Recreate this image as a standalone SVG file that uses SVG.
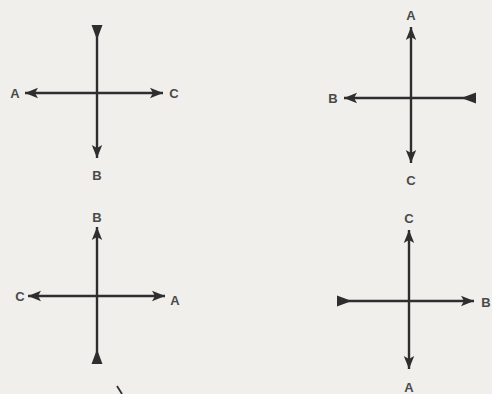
<svg xmlns="http://www.w3.org/2000/svg" width="492" height="394" viewBox="0 0 492 394">
<defs>
<style>
.ln{stroke:#2e2e2e;stroke-width:2.4;fill:none}
.t{font-family:"Liberation Sans",Arial,sans-serif;font-size:13px;font-weight:bold;fill:#4a4a4a;text-anchor:middle;dominant-baseline:central}
.head{marker-end:url(#arr)}
.tail{marker-end:url(#tl)}
</style>
<marker id="arr" markerUnits="userSpaceOnUse" viewBox="-14 -6 15 12" refX="0" refY="0" markerWidth="15" markerHeight="12" orient="auto">
<path d="M0,0 L-13,-5.2 L-10,0 L-13,5.2 Z" fill="#2e2e2e"/>
</marker>
<marker id="tl" markerUnits="userSpaceOnUse" viewBox="-14 -6 15 12" refX="0" refY="0" markerWidth="15" markerHeight="12" orient="auto">
<path d="M0,-5.5 L0,5.5 L-12,1 L-12,-1 Z" fill="#2e2e2e"/>
</marker>
</defs>
<rect width="492" height="394" fill="#f0efec"/>
<g id="connectors">
<line class="ln tail" x1="97" y1="93" x2="97" y2="25"/>
<line class="ln head" x1="97" y1="93" x2="97" y2="158"/>
<line class="ln head" x1="97" y1="93" x2="25" y2="93"/>
<line class="ln head" x1="97" y1="93" x2="163" y2="93"/>

<line class="ln head" x1="411" y1="98" x2="411" y2="27"/>
<line class="ln head" x1="411" y1="98" x2="411" y2="163"/>
<line class="ln head" x1="411" y1="98" x2="344" y2="98"/>
<line class="ln tail" x1="411" y1="98" x2="476" y2="98"/>

<line class="ln head" x1="97" y1="296" x2="97" y2="227"/>
<line class="ln tail" x1="97" y1="296" x2="97" y2="364"/>
<line class="ln head" x1="97" y1="296" x2="28" y2="296"/>
<line class="ln head" x1="97" y1="296" x2="165" y2="296"/>

<line class="ln head" x1="409" y1="301" x2="409" y2="230"/>
<line class="ln head" x1="409" y1="301" x2="409" y2="369"/>
<line class="ln tail" x1="409" y1="301" x2="337" y2="301"/>
<line class="ln head" x1="409" y1="301" x2="474" y2="301"/>
<line x1="117" y1="386" x2="122" y2="394" stroke="#2e2e2e" stroke-width="1.8"/>
</g>
<g id="cross1">
<text class="t" x="15" y="93">A</text>
<text class="t" x="174" y="93">C</text>
<text class="t" x="97" y="175">B</text>
</g>
<g id="cross2">
<text class="t" x="411" y="15">A</text>
<text class="t" x="333" y="98">B</text>
<text class="t" x="411" y="180">C</text>
</g>
<g id="cross3">
<text class="t" x="97" y="217">B</text>
<text class="t" x="20" y="296">C</text>
<text class="t" x="175" y="300">A</text>
</g>
<g id="cross4">
<text class="t" x="409" y="218">C</text>
<text class="t" x="486" y="302">B</text>
<text class="t" x="409" y="387">A</text>
</g>
</svg>
